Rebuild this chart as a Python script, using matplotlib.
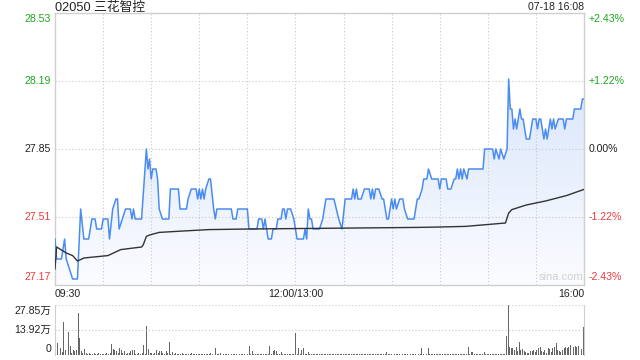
import matplotlib
matplotlib.use('Agg')
import matplotlib.pyplot as plt
import numpy as np
from matplotlib.colors import LinearSegmentedColormap

plt.rcParams['font.family'] = ['Liberation Sans', 'Noto Sans CJK SC', 'DejaVu Sans']

title = '02050 三花智控'
stamp = '07-18 16:08'
prev_close = 27.85

# minutes since 09:30 (lunch removed), price
price_t = [0, 1, 4, 6, 7, 9, 11, 14, 16, 18, 21, 23, 25, 26, 29, 30, 33, 34, 36, 38, 39, 40, 42, 44, 47,
           48, 49, 50, 54, 57, 58, 59, 60, 61, 63, 64, 65, 67, 71, 72, 77, 78, 82, 83, 85, 88, 89, 90, 91,
           92, 93, 94, 96, 97, 99, 100, 101, 110, 111, 113, 114, 120, 121, 126, 127, 129, 130, 131, 132,
           133, 135, 136, 138, 139, 141, 142, 143, 144, 145, 147, 149, 151, 155, 156, 157, 158, 159, 160,
           161, 165, 167, 169, 174, 177, 179, 181, 185, 186, 187, 188, 189, 191, 193, 196, 197, 198, 199,
           200, 202, 204, 205, 207, 208, 209, 210, 211, 212, 213, 215, 217, 218, 220, 224, 226, 227, 229,
           230, 232, 233, 235, 239, 240, 241, 244, 245, 247, 249, 250, 251, 252, 253, 254, 255, 257, 258,
           267, 268, 273, 274, 275, 277, 278, 280, 282, 283, 284, 285, 286, 287, 288, 290, 291, 292, 294,
           296, 297, 298, 300, 301, 302, 303, 305, 306, 307, 309, 310, 311, 312, 314, 317, 318, 319, 323,
           324, 328, 329, 330]
price_v = [27.40, 27.30, 27.30, 27.40, 27.30, 27.25, 27.20, 27.20, 27.55, 27.40, 27.40, 27.50, 27.50, 27.45,
           27.45, 27.50, 27.50, 27.40, 27.55, 27.60, 27.60, 27.45, 27.50, 27.55, 27.55, 27.50, 27.55, 27.50,
           27.50, 27.85, 27.75, 27.80, 27.70, 27.75, 27.75, 27.70, 27.55, 27.50, 27.50, 27.65, 27.65, 27.55,
           27.55, 27.60, 27.65, 27.65, 27.60, 27.65, 27.60, 27.65, 27.60, 27.65, 27.70, 27.70, 27.55, 27.50,
           27.55, 27.55, 27.50, 27.50, 27.55, 27.55, 27.45, 27.45, 27.50, 27.50, 27.45, 27.50, 27.45, 27.40,
           27.40, 27.45, 27.45, 27.50, 27.50, 27.55, 27.55, 27.50, 27.55, 27.55, 27.50, 27.40, 27.40, 27.45,
           27.40, 27.55, 27.50, 27.50, 27.45, 27.45, 27.50, 27.60, 27.60, 27.50, 27.45, 27.60, 27.60, 27.65,
           27.60, 27.65, 27.60, 27.60, 27.65, 27.65, 27.60, 27.65, 27.60, 27.65, 27.65, 27.60, 27.60, 27.50,
           27.50, 27.55, 27.60, 27.55, 27.60, 27.55, 27.60, 27.60, 27.55, 27.50, 27.50, 27.60, 27.60, 27.65,
           27.70, 27.70, 27.75, 27.70, 27.70, 27.65, 27.70, 27.70, 27.65, 27.65, 27.70, 27.70, 27.75, 27.70,
           27.75, 27.70, 27.75, 27.70, 27.75, 27.75, 27.85, 27.85, 27.80, 27.85, 27.80, 27.85, 27.80, 27.85,
           28.20, 28.05, 28.05, 27.95, 28.00, 27.95, 28.05, 28.00, 28.00, 27.90, 27.90, 27.95, 28.00, 28.00,
           27.95, 28.00, 28.00, 27.90, 27.95, 27.90, 28.00, 27.95, 28.00, 27.95, 28.00, 28.00, 27.95, 28.00,
           28.00, 28.05, 28.05, 28.10, 28.10]

avg_t = [0, 1, 7, 11, 14, 16, 18, 33, 41, 54, 55, 57, 59, 65, 80, 96, 121, 188, 227, 240, 256, 281, 283,
         285, 294, 306, 319, 330]
avg_v = [27.25, 27.36, 27.33, 27.317, 27.29, 27.297, 27.305, 27.317, 27.347, 27.36, 27.37, 27.413, 27.42,
         27.433, 27.44, 27.447, 27.45, 27.455, 27.458, 27.46, 27.463, 27.48, 27.53, 27.547, 27.57, 27.59,
         27.617, 27.648]

# volume per minute, in 万
volume = [
  6.5, 6.5, 5.6, 3.7, 1.5, 18.6, 2.8, 1.2, 13.0, 5.0, 1.2, 2.8, 2.2, 2.8, 23.2, 9.3, 2.2, 1.0, 3.3, 1.0, 0.8, 1.2, 0.8, 0.6, 1.0, 0.8, 0.6, 0.9, 0.7, 0.8,
  0.8, 0.6, 0.9, 0.7, 1.0, 6.1, 3.3, 2.8, 2.4, 1.0, 3.7, 2.8, 1.0, 2.2, 0.8, 1.0, 0.9, 2.4, 2.8, 2.8, 0.8, 0.7, 0.9, 0.8, 1.0, 5.6, 0.8, 16.3, 3.2, 1.0,
  0.9, 0.8, 1.0, 2.8, 1.0, 2.2, 2.4, 0.9, 0.8, 2.2, 1.0, 7.4, 0.8, 1.9, 0.7, 0.9, 0.6, 0.8, 0.7, 0.9, 0.6, 0.7, 0.8, 0.6, 0.7, 0.9, 0.6, 0.7, 0.8, 0.6,
  0.7, 0.6, 0.8, 0.7, 0.6, 0.8, 0.7, 0.9, 0.6, 13.5, 3.7, 0.8, 0.7, 1.3, 0.6, 0.7, 0.8, 0.6, 0.7, 0.6, 0.8, 0.7, 0.6, 0.7, 0.8, 0.6, 0.7, 0.6, 0.7, 0.8,
  0.6, 5.0, 0.7, 2.2, 0.8, 0.6, 0.7, 0.6, 0.8, 0.7, 0.6, 0.7, 0.8, 0.6, 5.0, 0.7, 2.2, 2.8, 2.2, 0.7, 0.8, 1.9, 0.6, 0.7, 0.6, 0.8, 0.6, 0.7, 0.6, 0.7,
  12.4, 0.8, 3.7, 0.7, 2.8, 3.7, 0.8, 0.7, 1.9, 0.6, 0.7, 0.6, 0.8, 0.6, 0.7, 0.6, 0.7, 0.6, 0.8, 0.6, 0.7, 0.6, 0.7, 0.8, 0.6, 0.7, 0.6, 0.7, 0.6, 0.7,
  0.6, 0.7, 0.6, 0.8, 0.6, 0.7, 0.6, 0.7, 0.6, 0.8, 0.6, 0.7, 0.6, 0.7, 0.6, 0.7, 0.8, 0.6, 0.7, 0.6, 0.7, 0.6, 0.7, 0.6, 0.8, 0.6, 0.7, 1.9, 0.6, 0.7,
  0.6, 0.7, 0.6, 0.8, 0.6, 0.7, 0.6, 0.7, 0.8, 0.6, 0.7, 0.6, 0.7, 0.6, 0.8, 0.6, 0.7, 0.6, 0.7, 3.7, 0.6, 0.7, 0.6, 3.7, 0.7, 0.6, 0.8, 0.6, 0.7, 0.6,
  0.7, 0.6, 0.8, 0.6, 0.7, 0.6, 0.7, 0.6, 0.8, 0.7, 0.6, 0.7, 0.6, 0.8, 0.6, 0.7, 0.6, 0.7, 4.3, 0.7, 1.9, 1.9, 0.6, 0.7, 0.6, 0.8, 0.7, 0.6, 1.9, 0.7,
  0.7, 0.6, 0.8, 0.6, 0.7, 0.6, 0.8, 0.7, 0.6, 0.7, 0.6, 0.7, 10.6, 27.85, 4.6, 3.7, 3.7, 2.8, 4.6, 2.2, 7.4, 2.8, 3.2, 2.2, 1.5, 1.3, 1.3, 2.4, 2.2, 2.8,
  1.9, 2.8, 3.7, 4.6, 2.4, 1.9, 2.8, 1.3, 3.7, 3.2, 1.9, 3.7, 4.6, 6.9, 2.8, 2.4, 1.9, 2.8, 3.7, 4.6, 3.7, 4.6, 5.6, 5.0, 4.6, 5.0, 4.6, 5.0, 4.6, 3.5,
  15.8]

price_ticks = [27.17, 27.51, 27.85, 28.19, 28.53]
price_labels = ['27.17', '27.51', '27.85', '28.19', '28.53']
pct_labels = ['-2.43%', '-1.22%', '0.00%', '+1.22%', '+2.43%']
vol_ticks = [0, 13.92, 27.85]
vol_labels = ['0', '13.92万', '27.85万']
time_labels = ['09:30', '12:00/13:00', '16:00']
time_pos = [0, 150, 330]

green = '#1ea51e'
red = '#f03a3a'
dark = '#222222'
grid_c = '#c8c8c8'
W, H = 640, 360

fig = plt.figure(figsize=(6.4, 3.6), dpi=100)
ax = fig.add_axes([55 / W, 1 - 285 / H, 529 / W, 272 / H])
vax = fig.add_axes([55 / W, 1 - 355 / H, 529 / W, 50 / H])

lo, hi = price_ticks[0], price_ticks[-1]

# gradient fill under the price line
poly = ax.fill_between(price_t, price_v, lo, color='none', lw=0)
cmap = LinearSegmentedColormap.from_list('fade', ['#fbfcff', '#d9e6fb'])
grad = np.linspace(0, 1, 256).reshape(-1, 1)
im = ax.imshow(grad, extent=[0, 330, lo, 28.2], origin='lower', aspect='auto', cmap=cmap, zorder=1)
im.set_clip_path(poly.get_paths()[0], transform=ax.transData)

ax.plot(price_t, price_v, color='#4b8cf0', lw=1.1, zorder=3)
ax.plot(avg_t, avg_v, color='#333333', lw=1.0, zorder=3)

ax.set_xlim(0, 330)
ax.set_ylim(lo, hi)
ax.set_xticks(range(30, 330, 30))
ax.set_yticks(price_ticks[1:-1])
ax.grid(True, color=grid_c, ls=(0, (1, 2)), lw=0.8)
ax.tick_params(length=0, labelleft=False, labelbottom=False)
for s in ax.spines.values():
  s.set_color('#cfcfcf')
  s.set_linewidth(1)

def price_color(v):
  if v > prev_close + 1e-6:
    return green
  if v < prev_close - 1e-6:
    return red
  return dark

for v, lab, pl in zip(price_ticks, price_labels, pct_labels):
  va = 'center'
  off = 0
  if v == hi:
    va, off = 'top', -1
  if v == lo:
    va, off = 'bottom', 3
  c = price_color(v)
  ax.annotate(lab, xy=(0, v), xycoords=('axes fraction', 'data'), xytext=(-4, off),
              textcoords='offset pixels', ha='right', va=va, fontsize=7.6, color=c)
  ax.annotate(pl, xy=(1, v), xycoords=('axes fraction', 'data'), xytext=(5, off),
              textcoords='offset pixels', ha='left', va=va, fontsize=7.6, color=c)

for t, lab, ha in zip(time_pos, time_labels, ['left', 'center', 'right']):
  ax.annotate(lab, xy=(t, 0), xycoords=('data', 'axes fraction'), xytext=(0, -9),
              textcoords='offset pixels', ha=ha, va='center', fontsize=7.6, color=dark)

ax.text(0.998, 0.012, 'sina.com', transform=ax.transAxes, ha='right', va='bottom',
        fontsize=8, color='#d0d0d0')
fig.text(55 / W, 1 - 8 / H, title, ha='left', va='center', fontsize=9.2, color=dark)
fig.text(584 / W, 1 - 7 / H, stamp, ha='right', va='center', fontsize=7.6, color=dark)

# volume panel
vx = np.arange(len(volume))
vax.bar(vx, volume, width=0.6, color='#666666', lw=0)
vax.set_xlim(0 - 0.5, 330 + 0.5)
vax.set_ylim(0, vol_ticks[-1])
vax.set_yticks(vol_ticks[1:])
vax.set_xticks([])
vax.grid(True, axis='y', color=grid_c, ls=(0, (1, 2)), lw=0.8)
vax.tick_params(length=0, labelleft=False)
vax.spines['top'].set_visible(False)
vax.spines['bottom'].set_visible(False)
for s in ['left', 'right']:
  vax.spines[s].set_color('#cfcfcf')
for v, lab in zip(vol_ticks, vol_labels):
  va, off = 'center', 0
  if v == vol_ticks[-1]:
    va, off = 'top', -1
  if v == 0:
    va, off = 'bottom', 1
  vax.annotate(lab, xy=(0, v), xycoords=('axes fraction', 'data'), xytext=(-4, off),
               textcoords='offset pixels', ha='right', va=va, fontsize=7.6, color=dark)

fig.savefig('out.png', dpi=100)
